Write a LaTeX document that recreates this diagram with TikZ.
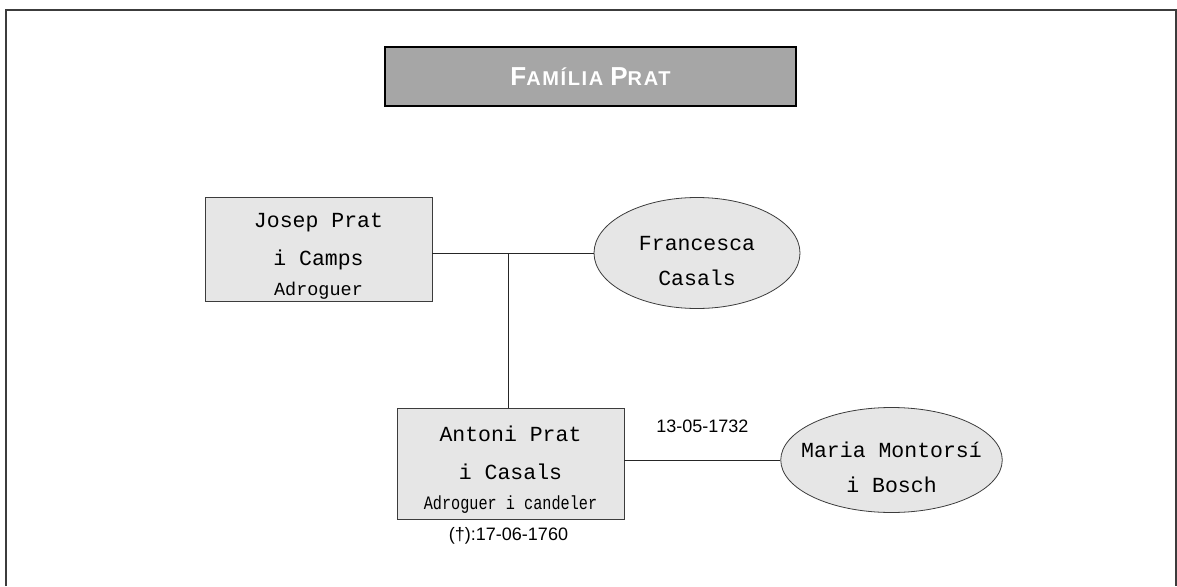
\documentclass[tikz,border=0pt]{standalone}
\usepackage{fontspec}
\setmainfont{Liberation Sans}
\newfontfamily\namefont{Liberation Mono}
\newfontfamily\narrowfont[FakeStretch=0.8]{Liberation Mono}
\newfontfamily\titlefont[LetterSpace=8]{Liberation Sans}
\usetikzlibrary{positioning, shapes.geometric}
\definecolor{titlegray}{RGB}{166,166,166}
\definecolor{boxgray}{RGB}{230,230,230}
\definecolor{framegray}{RGB}{60,60,60}
\newcommand{\bigname}{\namefont\fontsize{21.5}{38}\selectfont}
\newcommand{\jobfont}{\namefont\fontsize{18.5}{30}\selectfont}
\newcommand{\narrowjob}{\narrowfont\fontsize{19}{30}\selectfont}
\newcommand{\topstrut}[1]{\rule{0pt}{#1}}
\tikzset{
x=1pt, y=-1pt,
every node/.append style={inner sep=0pt},
titlebox/.style={rectangle, draw=black, line width=2.2pt, fill=titlegray,
    minimum width=411pt, minimum height=59pt, text=white},
person/.style={rectangle, draw=framegray, line width=0.8pt, fill=boxgray,
    minimum width=227pt, align=center, font=\bigname},
spouse/.style={ellipse, draw=framegray, line width=0.8pt, fill=boxgray,
    align=center, font=\namefont\fontsize{21.5}{35}\selectfont},
datefont/.style={font=\fontsize{18}{20}\selectfont},
link/.style={draw=black!85, line width=0.8pt},
}

\begin{document}
\begin{tikzpicture}
            \useasboundingbox (0,0) rectangle (1177,586);
            \draw[framegray, line width=1.6pt] (6,586) -- (6,10) -- (1176,10) -- (1176,586);

            \node[titlebox] (title) at (590.5,76.5)
                {\titlefont\bfseries\fontsize{26}{28}\selectfont F\fontsize{20}{28}\selectfont AMÍLIA
                 \fontsize{26}{28}\selectfont P\fontsize{20}{28}\selectfont RAT};

            \node[person, minimum height=104pt] (josep) at (318.5,249)
                {\topstrut{28pt}Josep Prat\\i Camps\\[-8pt]{\jobfont Adroguer}};
            \node[spouse, minimum width=206pt, minimum height=111pt] (francesca) at (697,253)
                {\topstrut{30pt}Francesca\\Casals};
            \node[person, minimum height=111pt] (antoni) at (510.5,463.5)
                {\topstrut{28pt}Antoni Prat\\i Casals\\[-8pt]{\narrowjob Adroguer i candeler}};
            \node[spouse, inner xsep=-12pt, minimum width=217pt, minimum height=105pt] (maria) at (891.5,460)
                {\topstrut{30pt}Maria Montorsí\\i Bosch};
            \node[datefont, below=8pt of antoni, xshift=-2pt] (death) {(†):17-06-1760};
            \coordinate (stem) at (508,253);

            % Marriages
            \draw[link] (josep.east |- francesca.west) -- (francesca.west);
            \draw[link] (antoni.east |- maria.west) -- node[datefont, above=27pt] (wedding) {13-05-1732} (maria.west);

            % Children
            \draw[link] (stem |- antoni.north) -- (stem);
     \end{tikzpicture}
\end{document}
